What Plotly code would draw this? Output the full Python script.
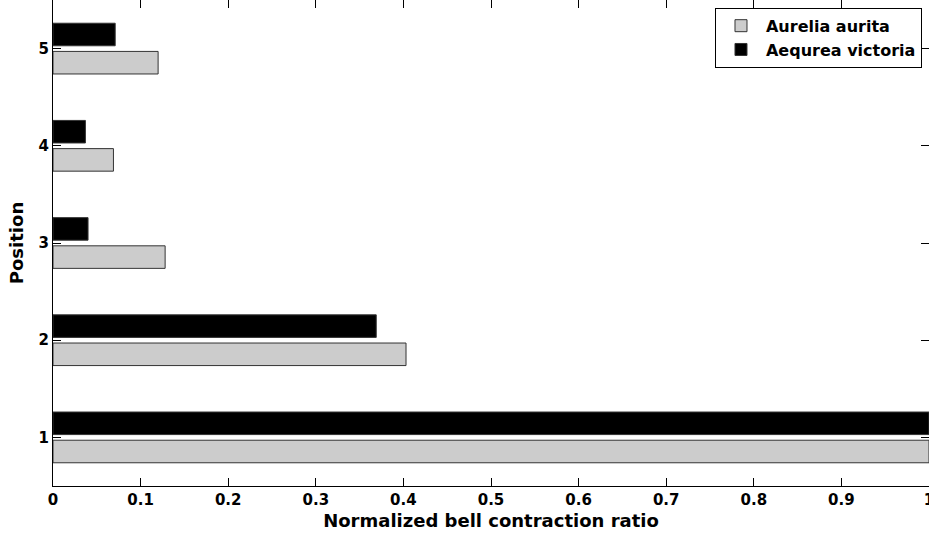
import plotly.graph_objects as go

# Bell contraction ratio per position for the two jellyfish species
positions = [1, 2, 3, 4, 5]
aurelia_aurita = [1.0, 0.403, 0.128, 0.069, 0.120]
aequrea_victoria = [1.0, 0.369, 0.040, 0.037, 0.071]

x_ticks = [0, 0.1, 0.2, 0.3, 0.4, 0.5, 0.6, 0.7, 0.8, 0.9, 1]
x_tick_labels = ["0", "0.1", "0.2", "0.3", "0.4", "0.5", "0.6", "0.7", "0.8", "0.9", "1"]

FONT = "DejaVu Sans, Liberation Sans, Arial, sans-serif"

fig = go.Figure()
fig.add_trace(go.Bar(
    y=positions, x=aurelia_aurita, orientation="h", name="Aurelia aurita",
    marker=dict(color="#cccccc", line=dict(color="#333333", width=1)),
))
fig.add_trace(go.Bar(
    y=positions, x=aequrea_victoria, orientation="h", name="Aequrea victoria",
    marker=dict(color="#000000", line=dict(color="#333333", width=1)),
))

axis_common = dict(
    showline=True, linecolor="black", linewidth=1, mirror="ticks",
    ticks="inside", ticklen=8, tickcolor="black", tickwidth=1,
    showgrid=False, zeroline=False, ticklabeloverflow="allow",
    automargin=False,
    tickfont=dict(family=FONT, size=15, color="black", weight="bold"),
)

fig.update_layout(
    width=929, height=540,
    margin=dict(l=53, r=0, t=0, b=54, autoexpand=False),
    paper_bgcolor="white", plot_bgcolor="white",
    barmode="group", bargap=0.42, bargroupgap=0.2,
    font=dict(family=FONT, color="black"),
    xaxis=dict(
        range=[0, 1], tickvals=x_ticks, ticktext=x_tick_labels,
        title=dict(text="Normalized bell contraction ratio",
                   font=dict(family=FONT, size=18, color="black", weight="bold"),
                   standoff=6),
        **axis_common,
    ),
    yaxis=dict(
        range=[0.5, 5.5], tickvals=positions,
        title=dict(text="Position",
                   font=dict(family=FONT, size=18, color="black", weight="bold"),
                   standoff=10),
        **axis_common,
    ),
    legend=dict(
        x=0.992, y=0.984, xanchor="right", yanchor="top",
        bgcolor="white", bordercolor="black", borderwidth=1,
        font=dict(family=FONT, size=16, color="black", weight="bold"),
        traceorder="normal", itemwidth=40, tracegroupgap=0,
    ),
    showlegend=True,
)

fig.write_html("out.html")
